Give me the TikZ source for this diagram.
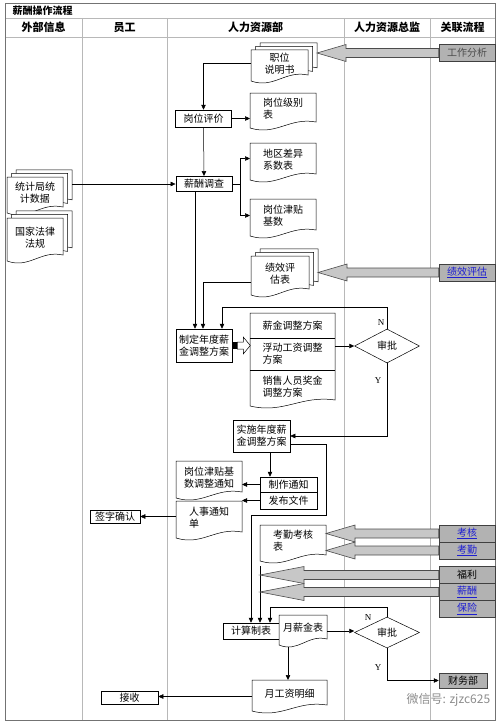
\documentclass[tikz,border=0pt]{standalone}
\usepackage{fontspec}
\setmainfont{Liberation Serif}
\newfontfamily\cjk{Noto Sans CJK SC}
\usepackage{xcolor}
\usetikzlibrary{arrows.meta,calc,shapes.geometric}

\definecolor{lanegray}{gray}{0.72}
\definecolor{boxgray}{gray}{0.70}
\definecolor{fatgray}{gray}{0.78}
\definecolor{linkblue}{RGB}{30,30,210}

\newcommand\lnk[1]{\textcolor{linkblue}{\underline{#1}}}

\newcommand\sdoc[7][center]{%
  \draw[docline] (#3,#4) -- (#3+#5,#4) -- (#3+#5,#4+#6-8)
    .. controls (#3+0.6*#5,#4+#6-13) and (#3+0.4*#5,#4+#6+6) .. (#3,#4+#6-2) -- cycle;
  \node[anchorbox, minimum width=#5pt, minimum height=#6pt] (#2) at (#3+#5/2,#4+#6/2) {};
  \node[doctext, align=#1] (#2t) at (#3+#5/2,#4+#6/2-3) {#7};}

\newcommand\mdoc[6]{%
  \foreach \o in {9,4.5,0}{%
    \draw[docline] (#2+\o,#3-0.8*\o) -- (#2+#4+\o,#3-0.8*\o) -- (#2+#4+\o,#3+#5-8-0.8*\o)
      .. controls (#2+0.6*#4+\o,#3+#5-13-0.8*\o) and (#2+0.4*#4+\o,#3+#5+6-0.8*\o) .. (#2+\o,#3+#5-2-0.8*\o) -- cycle;}
  \node[anchorbox, minimum width={(#4+9)*1pt}, minimum height={(#5+7.2)*1pt}] (#1) at (#2+#4/2+4.5,#3+#5/2-3.6) {};
  \node[doctext, align=center] (#1t) at (#2+#4/2,#3+#5/2-3) {#6};}

\newcommand\fatarrow[3]{%
  \draw[fatarr] let \p1=(#1.west), \p2=(#2) in
    (\x1,\y2+4.5pt) -- (\x2+#3pt,\y2+4.5pt) -- (\x2+#3pt,\y2+8.5pt) -- (\x2,\y2)
    -- (\x2+#3pt,\y2-8.5pt) -- (\x2+#3pt,\y2-4.5pt) -- (\x1,\y2-4.5pt) -- cycle;}

\begin{document}
\begin{tikzpicture}[x=1pt,y=-1pt,line width=0.5pt,
  arr/.style={-{Triangle[length=5pt,width=4.5pt]}},
  box/.style={draw,rectangle,inner sep=1pt,font=\cjk,align=center},
  gbox/.style={draw=black!75,fill=boxgray,minimum width=56pt,minimum height=17pt,inner sep=0pt,font=\cjk},
  head/.style={font=\cjk\bfseries\fontsize{11}{13}\selectfont},
  docline/.style={draw,fill=white},
  anchorbox/.style={rectangle,draw=none,inner sep=0pt,outer sep=0pt},
  doctext/.style={font=\cjk,inner sep=1pt,align=center},
  decide/.style={diamond,draw,inner sep=0pt,font=\cjk},
  yn/.style={font=\small,inner sep=0pt},
  fatarr/.style={draw=black!70,fill=fatgray,line width=0.6pt},
  lane/.style={draw=lanegray,line width=0.6pt}]
\useasboundingbox (0,0) rectangle (502,725);

\draw[lane] (5,18) -- (495,18) (5,37) -- (495,37);
\foreach \x in {82,167,344,430} \draw[lane] (\x,18) -- (\x,720);
\draw[draw=black!55,line width=0.8pt] (5,3) rectangle (495,720);
\node[font=\cjk\bfseries,anchor=west] (title) at (9,10.5) {薪酬操作流程};
\foreach \x/\t [count=\i] in {43.5/外部信息,124.5/员工,255.5/人力资源部,387/人力资源总监,462.5/关联流程}
  \node[head] (h\i) at (\x,27.5) {\t};

\node[gbox,text=black!70] (gz) at (467,53) {工作分析};
\node[gbox] (jxpg) at (467,272.5) {\lnk{绩效评估}};
\node[gbox] (kh) at (467,533.5) {\lnk{考核}};
\node[gbox] (kq) at (467,550.5) {\lnk{考勤}};
\node[gbox] (fl) at (467,575) {福利};
\node[gbox] (xc) at (467,592) {\lnk{薪酬}};
\node[gbox] (bx) at (467,609) {\lnk{保险}};
\node[gbox,minimum width=48pt,minimum height=15pt] (cw) at (463,680.5) {财务部};

\mdoc{jd}{251}{50}{57}{33}{职位\\说明书}
\sdoc[left]{gwjb}{250}{93}{66}{37}{岗位级别\\表}
\sdoc[left]{dq}{250}{143}{66}{39}{地区差异\\系数表}
\sdoc[left]{jt}{250}{199}{66}{39}{岗位津贴\\基数}
\mdoc{jx}{251}{256}{58}{41}{绩效评\\估表}
\mdoc{tjj}{7}{177}{56}{38}{统计局统\\计数据}
\mdoc{gj}{7}{218}{56}{45}{国家法律\\法规}
\sdoc{fa}{250}{313}{85}{95}{}
\sdoc[left]{gt}{176}{461}{66}{39}{岗位津贴基\\数调整通知}
\sdoc[left]{rs}{176}{501}{66}{39}{人事通知\\单}
\sdoc[left]{kqb}{260}{525}{66}{38}{考勤考核\\表}
\sdoc{mx}{252}{680}{75}{33}{月工资明细}

\draw[line width=0.9pt] (fa.west |- 0,338) -- (fa.east |- 0,338) (fa.west |- 0,370) -- (fa.east |- 0,370);
\node[doctext] (fa1) at (292.5,325.5) {薪金调整方案};
\node[doctext,align=left] (fa2) at (292.5,354) {浮动工资调整\\方案};
\node[doctext,align=left] (fa3) at (292.5,387) {销售人员奖金\\调整方案};

\node[box,minimum width=56pt,minimum height=17pt] (gwpj) at (203.5,118.5) {岗位评价};
\node[box,line width=0.9pt,minimum width=56pt,minimum height=15pt] (xcdc) at (204,184) {薪酬调查};
\node[box,minimum width=56pt,minimum height=33pt] (zd) at (204,345.5) {制定年度薪\\金调整方案};
\node[decide,minimum width=65pt,minimum height=34pt] (ap1) at (387,346) {审批};
\node[box,minimum width=57pt,minimum height=32pt] (ss) at (261.5,436) {实施年度薪\\金调整方案};
\node[box,minimum width=57pt,minimum height=15pt] (zz) at (288.5,484.5) {制作通知};
\node[box,minimum width=57pt,minimum height=17pt] (fb) at (288.5,500.5) {发布文件};
\node[box,minimum width=50pt,minimum height=13pt] (qz) at (115,516.5) {签字确认};
\node[box,minimum width=56pt,minimum height=16pt] (js) at (251,631) {计算制表};
\sdoc{yx}{279}{615}{48}{32}{月薪金表}
\node[decide,minimum width=65pt,minimum height=31pt] (ap2) at (387,632.5) {审批};
\node[box,minimum width=57pt,minimum height=13pt] (jc) at (129.5,697.5) {接收};

\draw[arr] (jd.west) -| (gwpj.north);
\draw[arr] (gwpj.east) -- (gwpj.east -| gwjb.west);
\draw[arr] (gwpj.south) -- (xcdc.north);
\draw[arr] (tjj.east |- xcdc.west) -- (xcdc.west);
\draw (xcdc.east) -- ++(8,0) coordinate (br);
\draw[arr] (br) |- ($(dq.west)+(0,-4)$);
\draw[arr] (br) |- ($(jt.west)+(0,-3)$);
\draw[arr] ($(xcdc.south)+(-9,0)$) -- ($(zd.north)+(-9,0)$);
\draw[arr] ($(jx.west)+(0,9)$) -| ($(zd.north)+(-1,0)$);
\draw[arr] (ap1.north) -- ++(0,-22) -| ($(zd.north)+(18,0)$);
\fill ($(zd.east)+(0,-3.5)$) rectangle ++(5,7);
\draw[fill=white] ($(zd.east)+(5,-3.5)$) -- ++(6,0) -- ++(0,-5) -- ++(7,8.5) -- ++(-7,8.5) -- ++(0,-5) -- ++(-6,0) -- cycle;
\draw[arr] (fa.east |- ap1.west) -- (ap1.west);
\draw[arr] (ap1.south) |- (ss.east);
\draw[arr] ($(ss.south)+(8.5,0)$) coordinate (p1) -- (p1 |- zz.north);
\draw[arr] (zz.west) -- (zz.west -| gt.east);
\draw[arr] (fb.west) -- (fb.west -| rs.east);
\draw[arr] (qz.east -| rs.west) -- (qz.east);
\draw[arr] ($(ss.east)+(0,8)$) -- ++(36,0) |- (js.north |- 0,515) -- (js.north);
\coordinate (kqin) at (260,566);
\draw[arr] (kqin) -- (kqin |- js.north);
\draw[arr] (ap2.north) |- ($(js.north)+(19,-16)$) -- ($(js.north)+(19,0)$);
\draw[arr] (yx.east) -- (yx.east -| ap2.west);
\draw[arr] (ap2.south) |- (cw.west);
\draw[arr] ($(yx.south)+(-15,0)$) coordinate (p2) -- (p2 |- mx.north);
\draw[arr] (mx.west) -- (mx.west -| jc.east);

\fatarrow{gz}{jd.east |- gz.west}{29}
\fatarrow{jxpg}{jx.east |- jxpg.west}{29}
\fatarrow{kh}{kqb.east |- kh.west}{29}
\fatarrow{kq}{kqb.east |- kq.west}{29}
\fatarrow{fl}{kqin |- fl.west}{44}
\fatarrow{xc}{kqin |- xc.west}{44}

\node[yn] (n1) at (381,323) {N};
\node[yn] (y1) at (378,381) {Y};
\node[yn] (n2) at (368,618) {N};
\node[yn] (y2) at (378,668) {Y};
\node[font=\cjk\large,text=black!45,anchor=west] (wm) at (403,700) {微信号: zjzc625};
\end{tikzpicture}
\end{document}
